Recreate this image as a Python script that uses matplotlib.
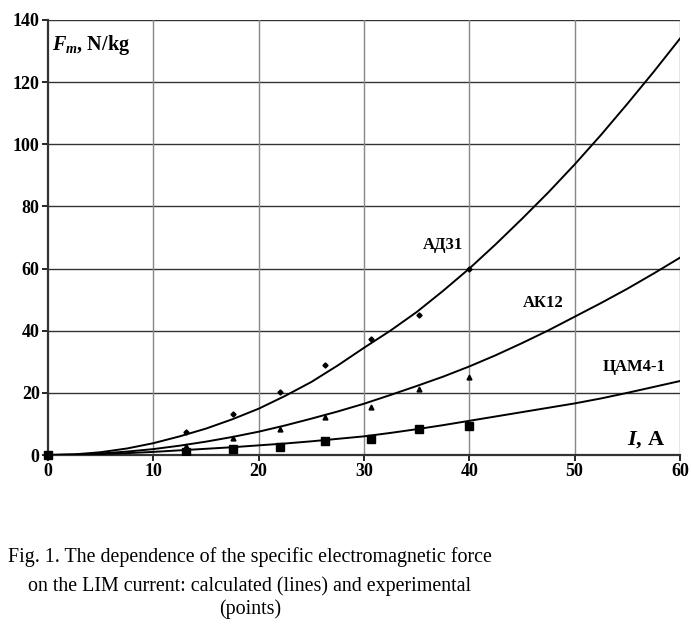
import numpy as np
import matplotlib
matplotlib.use('Agg')
from matplotlib import pyplot as plt

# calculated curves (every 2.5 A)
I_calc = [0, 2.5, 5, 7.5, 10, 12.5, 15, 17.5, 20, 22.5, 25, 27.5, 30,
          32.5, 35, 37.5, 40, 42.5, 45, 47.5, 50, 52.5, 55, 57.5, 60]
AD31_calc = [0, 0.2, 0.9, 2.1, 3.8, 6.0, 8.5, 11.5, 14.9, 19.0, 23.5, 28.8, 34.5,
             40.0, 46.0, 52.8, 60.0, 67.8, 76.0, 84.5, 93.5, 103.0, 113.0, 123.3, 134.0]
AK12_calc = [0, 0.1, 0.5, 1.1, 1.9, 3.0, 4.3, 5.8, 7.5, 9.5, 11.7, 14.0, 16.5,
             19.3, 22.2, 25.2, 28.5, 32.1, 36.0, 40.1, 44.5, 48.9, 53.5, 58.4, 63.5]
CAM_calc = [0, 0.1, 0.3, 0.6, 1.0, 1.5, 2.0, 2.5, 3.1, 3.7, 4.4, 5.2, 6.0,
            7.1, 8.3, 9.6, 11.0, 12.4, 13.8, 15.2, 16.6, 18.2, 20.0, 21.9, 23.8]

# experimental points
I_exp = [13.1, 17.6, 22.0, 26.3, 30.7, 35.2, 40.0]
AD31_exp = [7.3, 13.2, 20.4, 29.0, 37.2, 45.1, 60.0]
AK12_exp = [3.0, 5.4, 8.3, 12.1, 15.3, 21.1, 25.2]
CAM_exp = [1.1, 1.9, 2.7, 4.6, 5.0, 8.3, 9.3]

x_ticks = [0, 10, 20, 30, 40, 50, 60]
y_ticks = [0, 20, 40, 60, 80, 100, 120, 140]

plt.rcParams['font.family'] = ['Liberation Serif', 'DejaVu Serif']
plt.rcParams['mathtext.fontset'] = 'custom'
plt.rcParams['mathtext.it'] = 'Liberation Serif:italic:bold'
plt.rcParams['mathtext.rm'] = 'Liberation Serif:bold'

fig = plt.figure(figsize=(6.91, 6.25), dpi=100)
ax = fig.add_axes([0.0695, 0.272, 0.9145, 0.696])

ax.plot(I_calc, AD31_calc, color='black', lw=1.4, zorder=3)
ax.plot(I_calc, AK12_calc, color='black', lw=1.4, zorder=3)
ax.plot(I_calc, CAM_calc, color='black', lw=1.4, zorder=3)

ax.plot(I_exp, AD31_exp, 'D', color='black', ms=2.6, ls='none', zorder=4)
ax.plot(I_exp, AK12_exp, '^', color='black', ms=3.5, ls='none', zorder=4)
ax.plot(I_exp, CAM_exp, 's', color='black', ms=6, ls='none', zorder=4)
ax.plot([0], [0], 's', color='black', ms=6, zorder=4, clip_on=False)

ax.set_xlim(0, 60)
ax.set_ylim(0, 140)
ax.set_xticks(x_ticks)
ax.set_yticks(y_ticks)

for y in y_ticks[1:]:
    ax.axhline(y, color='#333333', lw=1.0, zorder=1)
for x in x_ticks[1:]:
    ax.axvline(x, color='#888888', lw=1.0, zorder=1)

for s in ['top', 'right']:
    ax.spines[s].set_visible(False)
ax.spines['left'].set_linewidth(1.6)
ax.spines['bottom'].set_linewidth(1.6)
ax.spines['left'].set_color('#333333')
ax.spines['bottom'].set_color('#333333')
ax.tick_params(direction='out', length=4, width=1.2, labelsize=13, pad=2)
for lab in ax.get_xticklabels() + ax.get_yticklabels():
    lab.set_fontweight('bold')

ax.text(0.4, 132, r'$F_m$, N/kg', fontsize=14.5, fontweight='bold', va='center', ha='left')
ax.text(58.6, 4.8, r'$I$, A', fontsize=16, fontweight='bold', va='center', ha='right')

ax.text(37.5, 67.6, 'АД31', fontsize=12, fontweight='bold', ha='center', va='center')
ax.text(47.0, 49, 'АК12', fontsize=12, fontweight='bold', ha='center', va='center')
ax.text(55.6, 28.3, 'ЦАМ4-1', fontsize=12, fontweight='bold', ha='center', va='center')

cx = 250 / 691
fig.text(cx, 1 - 562 / 625, 'Fig. 1. The dependence of the specific electromagnetic force',
         ha='center', va='baseline', fontsize=14.4)
fig.text(cx, 1 - 591 / 625, 'on the LIM current: calculated (lines) and experimental',
         ha='center', va='baseline', fontsize=14.4)
fig.text(cx, 1 - 614 / 625, '(points)', ha='center', va='baseline', fontsize=14.4)

plt.savefig('out.png', dpi=100)
